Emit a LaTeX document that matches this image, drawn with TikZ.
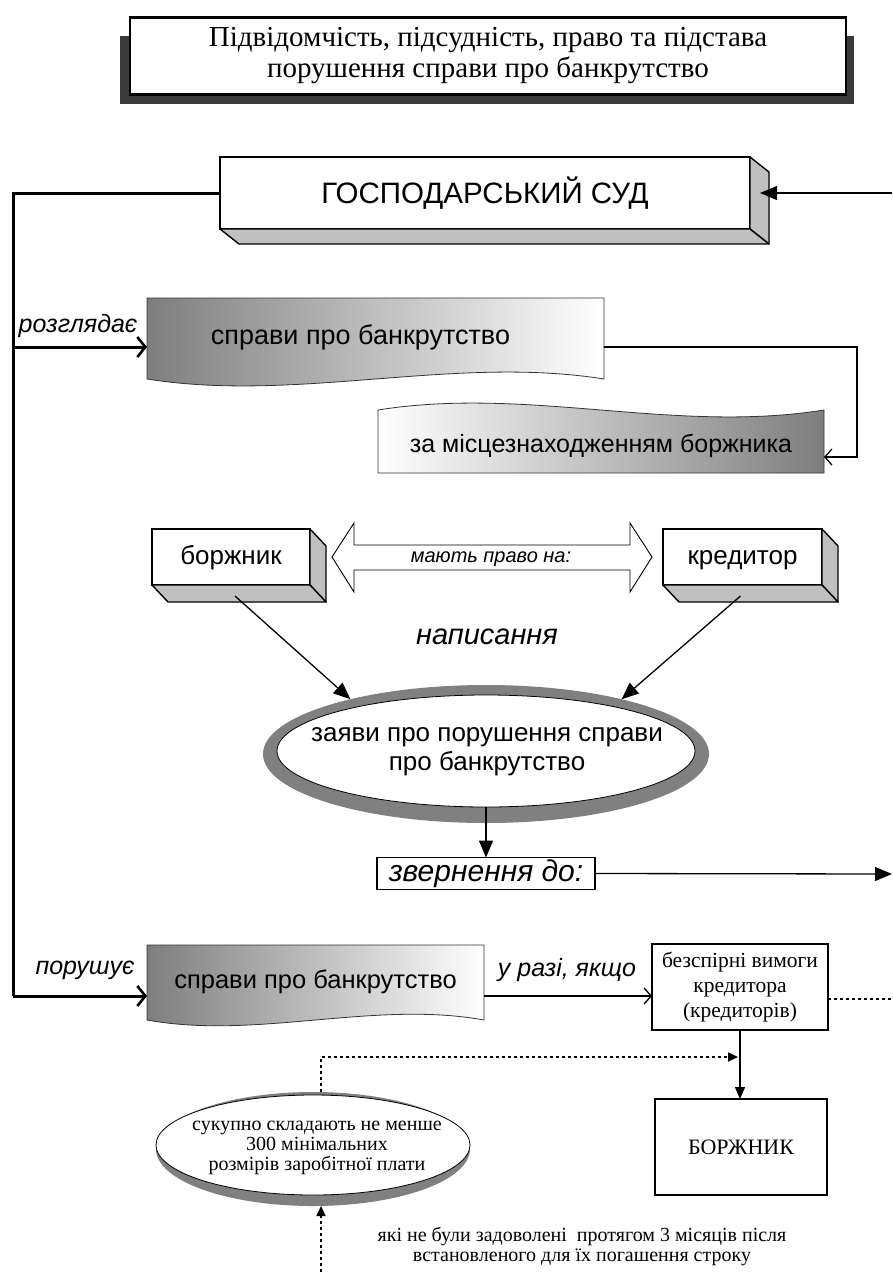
\documentclass[tikz,border=0pt]{standalone}
\usepackage{fontspec}
\setmainfont{Liberation Serif}
\setsansfont{Liberation Sans}
\usetikzlibrary{arrows.meta,shapes.geometric,calc}
\definecolor{shadowgray}{HTML}{3A3A3A}
\definecolor{sidegray}{HTML}{C0C0C0}
\definecolor{ringgray}{HTML}{808080}
\definecolor{docgray}{HTML}{7E7E7E}
\newcommand\extrude[3]{%
  \filldraw[sideface] (#1.north east) -- ++(#2,#3) -- ($(#1.south east)+(#2,#3)$) -- (#1.south east) -- cycle;
  \filldraw[sideface] (#1.south west) -- ++(#2,#3) -- ($(#1.south east)+(#2,#3)$) -- (#1.south east) -- cycle;}
\begin{document}
\begin{tikzpicture}[x=1pt,y=-1pt,
  every node/.style={outer sep=0pt, inner sep=0pt, align=center},
  ln/.style={line width=1.3pt},
  bus/.style={line width=3pt},
  frontbox/.style={draw, line width=1.6pt, fill=white, font=\sffamily\fontsize{26}{28}\selectfont,
                   text height=19pt, text depth=5pt},
  sideface/.style={draw, line width=1.4pt, fill=sidegray, line join=round},
  plainbox/.style={draw, line width=1.5pt, fill=white},
  docedge/.style={draw=black!80, line width=0.8pt},
  sftext/.style={font=\sffamily\fontsize{#1}{#1}\selectfont},
  sfit/.style={font=\sffamily\itshape\fontsize{#1}{#1}\selectfont},
  filled/.style={-{Triangle[length=17pt,width=14pt]}},
  smallfilled/.style={-{Triangle[length=12pt,width=10pt]}},
  barb/.style={-{Straight Barb[length=7pt,width=16pt,line width=1.3pt]}},
  thickbarb/.style={-{Straight Barb[length=8pt,width=20pt,line width=2.6pt]}},
  dotline/.style={line width=1.5pt, dash pattern=on 3pt off 3pt},
  dotarrow/.style={-{Triangle[length=10pt,width=9pt]}},
]
\useasboundingbox (0,0) rectangle (892,1272);

% ---- title
\fill[shadowgray] (120,36) rectangle (854,104);
\node[plainbox, line width=2.2pt, minimum width=716, minimum height=77,
      font=\fontsize{29}{31}\selectfont] (title) at (488,56)
  {Підвідомчість, підсудність, право та підстава\\порушення справи про банкрутство};

% ---- court
\node[frontbox, minimum width=530, minimum height=72, font=\sffamily\fontsize{29.5}{30}\selectfont,
      text height=22pt, text depth=1pt]
  (court) at (485,193) {ГОСПОДАРСЬКИЙ СУД};
\extrude{court}{19}{15}
\coordinate (cR) at (892,193);
\draw[ln, filled] (cR) -- ($(court.east)+(10,0)$);

% ---- left bus
\coordinate (b1) at (13,347);
\coordinate (b2) at (13,996);
\draw[bus] (court.west) -| (b2);

% ---- document 1
\shadedraw[docedge, left color=docgray, right color=white]
  (147,298) -- (604,298) -- (604,379) .. controls (454,355) and (297,403) .. (147,379) -- cycle;
\node[sftext=27, minimum width=457] (doc1) at (375.5,337) {\hspace*{-30pt}справи про банкрутство};
\draw[bus, thickbarb] (b1) -- ([yshift=-10pt]doc1.west);
\node[sfit=25] (lbl1) at (78,326) {розглядає};

% ---- document 2
\shadedraw[docedge, left color=white, right color=docgray]
  (378,410) .. controls (528,386) and (674,434) .. (824,410) -- (824,473) -- (378,473) -- cycle;
\node[sftext=25, minimum width=446] (doc2) at (601,446) {за місцезнаходженням боржника};
\draw[ln, barb] ([yshift=-10pt]doc1.east) -- ++(253,0) |- ([yshift=-11pt]doc2.east);

% ---- debtor / creditor
\node[frontbox, minimum width=158, minimum height=56] (borzh) at (231,557) {боржник};
\extrude{borzh}{16}{17}
\node[frontbox, minimum width=159, minimum height=56] (kred) at (742.5,557) {кредитор};
\extrude{kred}{16}{17}

\draw[line width=0.9pt, line join=miter]
  (332,557) -- (354,523) -- (354,545) -- (630,545) -- (630,523) -- (652,557)
  -- (630,592) -- (630,570) -- (354,570) -- (354,592) -- cycle;
\node[sfit=20, text height=14pt, text depth=4pt] (rights) at (491,557) {мають право на:};

\node[sfit=29] (write) at (487,637) {написання};

% ---- application ellipse
\node[ellipse, fill=ringgray, minimum width=446, minimum height=138] (ell) at (486,754) {};
\node[ellipse, draw, line width=0.8pt, fill=white, minimum width=418, minimum height=112] (ellin) at (486,751) {};
\node[font=\sffamily\fontsize{26}{29}\selectfont] (ellt) at (487,752) {заяви про порушення справи\\про банкрутство};
\draw[ln, filled] ($(borzh.south)+(4,11)$) -- (ell.158);
\draw[ln, filled] ($(kred.south)+(-2,11)$) -- (ell.22);

% ---- appeal
\node[plainbox, line width=1.4pt, minimum width=218, minimum height=32, sfit=30,
      text height=21pt, text depth=5pt] (zv) at (486,873.5) {звернення до:};
\draw[ln, filled] (ellin.south) -- (zv.north);
\coordinate (eR) at (892,874);
\draw[ln, filled] (zv.east) -- (eR);

% ---- document 3
\shadedraw[docedge, left color=docgray, right color=white]
  (147,945) -- (484,945) -- (484,1020) .. controls (374,1000) and (257,1040) .. (147,1020) -- cycle;
\node[sftext=25.5, minimum width=337] (doc3) at (315.5,982) {справи про банкрутство};
\draw[bus, thickbarb] (b2) -- ([yshift=-14pt]doc3.west);
\node[sfit=25] (lbl2) at (85,970) {порушує};

% ---- undisputed claims
\node[plainbox, minimum width=176, minimum height=86, font=\fontsize{21.5}{25}\selectfont] (bv) at (740,987)
  {безспірні вимоги\\кредитора\\(кредиторів)};
\draw[ln, barb] ([yshift=-14pt]doc3.east) -- ([yshift=-9pt]bv.west);
\node[sfit=25] (lbl3) at (567,970) {у разі, якщо};
\coordinate (dR) at (892,999);
\draw[dotline] ([yshift=-12pt]bv.east) -- (dR);

\node[plainbox, minimum width=172, minimum height=96, font=\fontsize{22}{25}\selectfont] (bz) at (741,1147) {БОРЖНИК};
\draw[ln, smallfilled] (bv.south) -- (bv.south |- bz.north);

% ---- amount ellipse
\node[ellipse, fill=ringgray, minimum width=314, minimum height=114] (e2) at (313,1149) {};
\node[ellipse, draw, line width=0.8pt, fill=white, minimum width=314, minimum height=100] (e2in) at (313,1145) {};
\node[font=\fontsize{20}{20}\selectfont] (e2t) at (317,1148)
  {сукупно складають не менше\\300 мінімальних\\розмірів заробітної плати};
\coordinate (jn) at (738,1057);
\coordinate (dT) at (321,1092);
\draw[dotline, dotarrow] (dT) |- (jn);
\coordinate (dB) at (321,1272);
\coordinate (dE) at (321,1206);
\draw[dotline, dotarrow] (dB) -- (dE);

\node[font=\fontsize{20}{20}\selectfont] (note) at (582,1246)
  {які не були задоволені\ \ протягом 3 місяців після\\встановленого для їх погашення строку};
\end{tikzpicture}
\end{document}
